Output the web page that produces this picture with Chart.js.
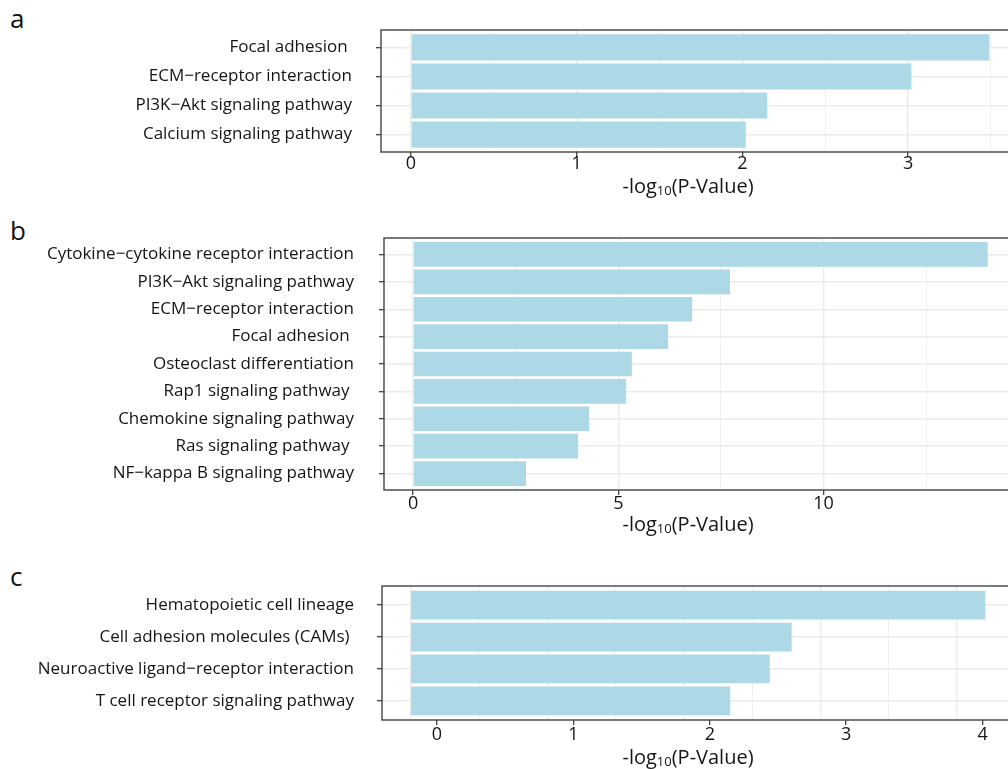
<!DOCTYPE html>
<html>
<head>
<meta charset="utf-8">
<script src="https://cdn.jsdelivr.net/npm/chart.js@4.4.1/dist/chart.umd.min.js"></script>
<style>
  html, body { margin: 0; padding: 0; background: #fff; width: 1008px; height: 769px; overflow: hidden; }
  canvas { position: absolute; left: 0; }
  .tag { position: absolute; left: 10px; font: 26px 'Open Sans', sans-serif; line-height: 26px; color: #111; }
</style>
</head>
<body>
<div class="tag" style="top:5px">a</div>
<div class="tag" style="top:217px">b</div>
<div class="tag" style="top:563px">c</div>
<canvas id="chartA" style="top:0px"></canvas>
<canvas id="chartB" style="top:205px"></canvas>
<canvas id="chartC" style="top:545px"></canvas>
<script>
// panel a
const aNames = ['Focal adhesion ', 'ECM−receptor interaction', 'PI3K−Akt signaling pathway', 'Calcium signaling pathway'];
const aValues = [3.49, 3.02, 2.15, 2.02];
const aTickLabels = [0, 1, 2, 3];
const aGridLines = [0, 0.5, 1, 1.5, 2, 2.5, 3, 3.5];

// panel b
const bNames = ['Cytokine−cytokine receptor interaction', 'PI3K−Akt signaling pathway', 'ECM−receptor interaction',
  'Focal adhesion ', 'Osteoclast differentiation', 'Rap1 signaling pathway ', 'Chemokine signaling pathway',
  'Ras signaling pathway ', 'NF−kappa B signaling pathway'];
const bValues = [14.0, 7.72, 6.8, 6.21, 5.33, 5.19, 4.29, 4.02, 2.75];
const bTickLabels = [0, 5, 10];
const bGridLines = [0, 2.5, 5, 7.5, 10, 12.5];

// panel c: in the figure the tick labels sit ~0.19 right of the grid, bars start at the grid's zero
const cNames = ['Hematopoietic cell lineage', 'Cell adhesion molecules (CAMs) ', 'Neuroactive ligand−receptor interaction',
  'T cell receptor signaling pathway'];
const cValues = [4.02, 2.60, 2.44, 2.15];
const cTickLabels = [0, 1, 2, 3, 4];
const cGridShift = 0.19;
const cGridLines = [0, 0.5, 1, 1.5, 2, 2.5, 3, 3.5, 4];

const FONT = "'Open Sans', sans-serif";
const INK = '#151515';
const BAR = '#ADD8E6';
const GRID = '#ebebeb';

const panelFrame = {
  id: 'panelFrame',
  afterDatasetsDraw(chart) {
    const { ctx, chartArea: a } = chart;
    ctx.save();
    ctx.strokeStyle = '#444';
    ctx.lineWidth = 1.4;
    ctx.strokeRect(a.left, a.top, a.right - a.left, a.bottom - a.top);
    ctx.restore();
  }
};

// "-log10(P-Value)" with a subscript 10
const axisTitle = {
  id: 'axisTitle',
  afterDraw(chart, args, opts) {
    const ctx = chart.ctx;
    const big = '20px ' + FONT, small = '13px ' + FONT;
    ctx.save();
    ctx.fillStyle = INK;
    ctx.textBaseline = 'alphabetic';
    ctx.textAlign = 'left';
    ctx.font = big;
    const w1 = ctx.measureText('-log').width, w3 = ctx.measureText('(P-Value)').width;
    ctx.font = small;
    const w2 = ctx.measureText('10').width;
    let x = opts.x - (w1 + w2 + w3) / 2;
    ctx.font = big; ctx.fillText('-log', x, opts.y); x += w1;
    ctx.font = small; ctx.fillText('10', x, opts.y + 2); x += w2;
    ctx.font = big; ctx.fillText('(P-Value)', x, opts.y);
    ctx.restore();
  }
};

function yAxis(names, width, pad) {
  return {
    type: 'linear',
    reverse: true,
    min: -0.6,
    max: names.length - 1 + 0.6,
    offset: false,
    afterBuildTicks: s => { s.ticks = names.map((n, i) => ({ value: i })); },
    // fixed width; drop the label padding chart.js reserves above/below the axis
    afterFit: s => { s.width = width; s.paddingTop = 0; s.paddingBottom = 0; },
    ticks: { autoSkip: false, padding: pad, color: INK, font: { family: FONT, size: 17 }, callback: v => names[v] },
    grid: { offset: false, color: GRID, lineWidth: 1.4, tickLength: 5, tickColor: '#333', tickWidth: 1.2 },
    border: { display: false }
  };
}

function makePanel(id, h, names, values, box, xScales, title) {
  const canvas = document.getElementById(id);
  canvas.width = 1030; canvas.height = h;
  canvas.style.width = '1030px'; canvas.style.height = h + 'px';
  return new Chart(canvas, {
    type: 'bar',
    data: {
      datasets: [{
        data: values.map((v, i) => ({ x: v, y: i })),
        backgroundColor: BAR,
        borderWidth: 0,
        barPercentage: 1,
        categoryPercentage: 0.9,
        base: box.base,
        xAxisID: 'x'
      }]
    },
    plugins: [panelFrame, axisTitle],
    options: {
      indexAxis: 'y',
      responsive: false,
      animation: false,
      layout: { padding: { top: box.top, right: 1030 - box.right, left: 0, bottom: 0 } },
      plugins: { legend: { display: false }, tooltip: { enabled: false }, axisTitle: title },
      scales: Object.assign({ y: yAxis(names, box.left, box.labelPad) }, xScales)
    }
  });
}

function valueAxis(min, max, tickLabels, gridLines, height, tickPad, withGrid) {
  return {
    type: 'linear',
    position: 'bottom',
    min, max,
    afterBuildTicks: s => { s.ticks = (withGrid ? gridLines : tickLabels).map(v => ({ value: v })); },
    afterFit: s => { s.height = height; },
    ticks: {
      autoSkip: false, maxRotation: 0, padding: tickPad, color: INK, font: { family: FONT, size: 18 },
      callback: v => tickLabels.includes(v) ? String(v) : ''
    },
    grid: {
      drawOnChartArea: withGrid,
      color: GRID,
      lineWidth: c => tickLabels.includes(c.tick.value) ? 1.4 : 0.8,
      tickLength: 5,
      tickWidth: 1.2,
      tickColor: c => tickLabels.includes(c.tick.value) ? '#333' : 'rgba(0,0,0,0)'
    },
    border: { display: false }
  };
}

makePanel('chartA', 205, aNames, aValues,
  { left: 381, right: 1016, top: 30, labelPad: 24 },
  { x: valueAxis(-0.181, 3.651, aTickLabels, aGridLines, 53, -4, true) },
  { x: 688, y: 193 });

makePanel('chartB', 340, bNames, bValues,
  { left: 384, right: 1016, top: 33, labelPad: 25 },
  { x: valueAxis(-0.71, 14.69, bTickLabels, bGridLines, 55, -2, true) },
  { x: 688, y: 326 });

makePanel('chartC', 224, cNames, cValues,
  { left: 382, right: 1016, top: 41, base: -cGridShift, labelPad: 23 },
  {
    x: valueAxis(-0.403, 4.245, cTickLabels, cGridLines, 49, -1, false),
    xg: {
      type: 'linear', position: 'top',
      min: -0.403 + cGridShift, max: 4.245 + cGridShift,
      afterBuildTicks: s => { s.ticks = cGridLines.map(v => ({ value: v })); },
      afterFit: s => { s.height = 0; },
      ticks: { display: false },
      grid: { color: GRID, drawTicks: false, lineWidth: c => Number.isInteger(c.tick.value) ? 1.4 : 0.8 },
      border: { display: false }
    }
  },
  { x: 688, y: 219 });
</script>
</body>
</html>
